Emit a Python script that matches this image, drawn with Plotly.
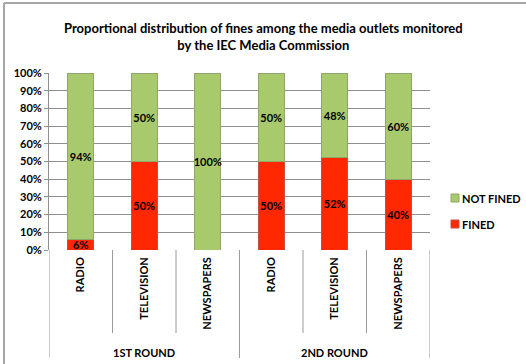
import plotly.graph_objects as go

# Data
rounds = ["1ST ROUND", "2ND ROUND"]
media = ["RADIO", "TELEVISION", "NEWSPAPERS"]
categories = media + media
fined = [6, 50, 0, 50, 52, 40]
not_fined = [94, 50, 100, 50, 48, 60]
series_names = ["FINED", "NOT FINED"]

FONT = "Lato"
W, H = 526, 364
L, R, T, B = 49, 96, 73, 114
PW, PH = W - L - R, H - T - B
RED, RED_EDGE = "#FF2800", "#C0504D"
GREEN, GREEN_EDGE = "#A9C96D", "#8EA66A"

x = list(range(len(categories)))


def labels(vals):
    return [f"{v}%" if v > 0 else "" for v in vals]


def px_x(px):
    return (px - L) / PW


def px_y(px):
    return (T + PH - px) / PH


fig = go.Figure()
fig.add_trace(go.Bar(
    x=x, y=fined, name=series_names[0],
    marker=dict(color=RED, line=dict(color=RED_EDGE, width=1)),
    text=labels(fined), textposition="inside", insidetextanchor="middle",
    textangle=0, cliponaxis=False,
    textfont=dict(family=FONT, size=11, color="black", weight="bold"),
))
fig.add_trace(go.Bar(
    x=x, y=not_fined, name=series_names[1],
    marker=dict(color=GREEN, line=dict(color=GREEN_EDGE, width=1)),
    text=labels(not_fined), textposition="inside", insidetextanchor="middle",
    textangle=0,
    textfont=dict(family=FONT, size=11, color="black", weight="bold"),
))

shapes = []
# separators between categories (short) and between rounds (long)
n_per = len(media)
for b in range(len(categories) + 1):
    xb = b - 0.5
    group_edge = (b % n_per == 0)
    depth = 108 if group_edge else 83
    shapes.append(dict(type="line", xref="x", yref="paper",
                       x0=xb, x1=xb, y0=0, y1=-depth / PH,
                       line=dict(color="#9a9a9a", width=1)))
# outer chart frame (top and left edges)
shapes.append(dict(type="line", xref="paper", yref="paper",
                   x0=px_x(4), x1=px_x(W), y0=px_y(3), y1=px_y(3),
                   line=dict(color="#a6a6a6", width=2)))
shapes.append(dict(type="line", xref="paper", yref="paper",
                   x0=px_x(4), x1=px_x(4), y0=px_y(3), y1=px_y(H + 2),
                   line=dict(color="#a6a6a6", width=2)))

annotations = []
for g, rnd in enumerate(rounds):
    center = g * n_per + (n_per - 1) / 2
    annotations.append(dict(x=center, y=px_y(352), xref="x", yref="paper",
                            text=rnd, showarrow=False, yanchor="middle",
                            font=dict(family=FONT, size=11, color="black", weight="bold")))

# legend: NOT FINED on top, FINED below
legend_items = [(series_names[1], GREEN, GREEN_EDGE, 198),
                (series_names[0], RED, RED_EDGE, 224)]
for name, fill, edge, cy in legend_items:
    shapes.append(dict(type="rect", xref="paper", yref="paper",
                       x0=px_x(451), x1=px_x(459), y0=px_y(cy - 4), y1=px_y(cy + 4),
                       fillcolor=fill, line=dict(color=edge, width=1)))
    annotations.append(dict(x=px_x(460), y=px_y(cy), xref="paper", yref="paper",
                            xanchor="left", yanchor="middle", text=name, showarrow=False,
                            font=dict(family=FONT, size=11, color="black", weight="bold")))

# chart title
annotations.append(dict(
    text="Proportional distribution of fines among the media outlets monitored<br>by the IEC Media Commission",
    x=px_x(263), xref="paper", xanchor="center",
    y=px_y(36), yref="paper", yanchor="middle",
    showarrow=False,
    font=dict(family=FONT, size=13, color="black", weight="bold"),
))

fig.update_layout(
    width=W, height=H,
    margin=dict(l=L, r=R, t=T, b=B),
    barmode="stack", bargap=0.59,
    paper_bgcolor="white", plot_bgcolor="white",
    showlegend=False,
    xaxis=dict(
        range=[-0.5, len(categories) - 0.5],
        tickvals=x, ticktext=categories, tickangle=-90,
        tickfont=dict(family=FONT, size=11, color="black", weight="bold"),
        showgrid=False, zeroline=False, showline=False, ticks="",
        ticklabelstandoff=4,
    ),
    yaxis=dict(
        range=[0, 100], dtick=10, ticksuffix="%",
        tickfont=dict(family=FONT, size=11, color="black", weight="bold"),
        showgrid=True, gridcolor="#8f8f8f", gridwidth=1,
        showline=True, linecolor="#8f8f8f", linewidth=1,
        ticks="outside", ticklen=4, tickcolor="#8f8f8f",
        zeroline=False,
    ),
    uniformtext=dict(minsize=11, mode="show"),
    shapes=shapes, annotations=annotations,
)

fig.write_html("out.html")
